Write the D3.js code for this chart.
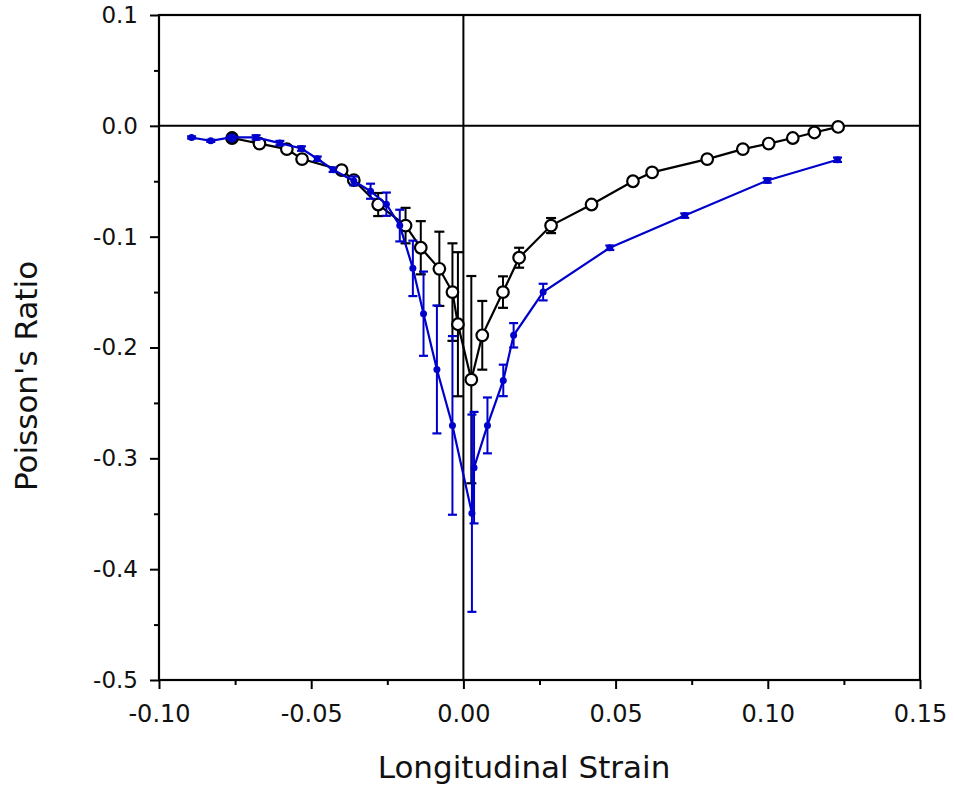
<!DOCTYPE html>
<html><head><meta charset="utf-8">
<script src="https://cdn.jsdelivr.net/npm/d3@7/dist/d3.min.js"></script>
<style>body{margin:0;background:#fff}</style>
</head><body>
<svg id="chart" width="954" height="788"></svg>
<script>
// ---- data ----
const blackX = [-0.076,-0.067,-0.058,-0.053,-0.040,-0.036,-0.028,-0.019,-0.014,-0.0079,-0.0036,-0.0018,0.0026,0.0062,0.0130,0.0183,0.0288,0.0421,0.0557,0.0620,0.0801,0.0918,0.1003,0.1082,0.1153,0.1231];
const blackY = [-0.011,-0.016,-0.021,-0.030,-0.040,-0.049,-0.071,-0.090,-0.110,-0.129,-0.150,-0.179,-0.229,-0.189,-0.150,-0.119,-0.090,-0.071,-0.050,-0.042,-0.030,-0.021,-0.016,-0.011,-0.006,-0.001];
const blackErr = [0,0,0,0,0,0.002,0.0104,0.016,0.024,0.0335,0.044,0.065,0.0935,0.031,0.0142,0.009,0.0068,0,0,0,0,0,0,0,0,0];

const blueX = [-0.0893,-0.0830,-0.0764,-0.0681,-0.0603,-0.0532,-0.0480,-0.0428,-0.0360,-0.0305,-0.0253,-0.0209,-0.0166,-0.0131,-0.0087,-0.0036,0.0028,0.0035,0.0079,0.0131,0.0165,0.0262,0.0481,0.0727,0.0998,0.1229];
const blueY = [-0.0105,-0.0135,-0.0105,-0.0105,-0.0156,-0.0205,-0.0297,-0.0396,-0.0497,-0.059,-0.0707,-0.090,-0.1286,-0.1695,-0.2198,-0.2703,-0.3495,-0.3084,-0.2703,-0.2297,-0.189,-0.150,-0.110,-0.081,-0.0493,-0.0306];
const blueErr = [0.001,0.001,0.001,0.002,0.002,0.002,0.002,0.002,0.004,0.0068,0.0105,0.0143,0.025,0.038,0.0577,0.0806,0.089,0.0503,0.0252,0.0142,0.011,0.0075,0.002,0.002,0.002,0.002];

const xTicks = [-0.10,-0.05,0.00,0.05,0.10,0.15];
const xTickLabels = ["-0.10","-0.05","0.00","0.05","0.10","0.15"];
const xMinorTicks = [-0.075,-0.025,0.025,0.075,0.125];
const yTicks = [0.1,0.0,-0.1,-0.2,-0.3,-0.4,-0.5];
const yTickLabels = ["0.1","0.0","-0.1","-0.2","-0.3","-0.4","-0.5"];
const yMinorTicks = [0.05,-0.05,-0.15,-0.25,-0.35,-0.45];
const xTitle = "Longitudinal Strain";
const yTitle = "Poisson's Ratio";

// ---- layout ----
const L = 159, R = 920, T = 15, B = 680;
const BLUE = "#0000cc";
const FONT = "DejaVu Sans, Verdana, sans-serif";

const svg = d3.select("#chart");
const x = d3.scaleLinear().domain([-0.10, 0.15]).range([L, R]);
const y = d3.scaleLinear().domain([-0.5, 0.1]).range([B, T]);

// frame
svg.append("rect").attr("x", L).attr("y", T).attr("width", R - L).attr("height", B - T)
  .attr("fill", "none").attr("stroke", "#000").attr("stroke-width", 2.2);

// zero lines
svg.append("line").attr("x1", L).attr("x2", R).attr("y1", y(0)).attr("y2", y(0))
  .attr("stroke", "#000").attr("stroke-width", 2);
svg.append("line").attr("x1", x(0)).attr("x2", x(0)).attr("y1", T).attr("y2", B)
  .attr("stroke", "#000").attr("stroke-width", 2);

// axes
const xAxis = d3.axisBottom(x).tickValues(xTicks).tickSize(9).tickSizeOuter(0).tickPadding(16)
  .tickFormat((d, i) => xTickLabels[i]);
const gx = svg.append("g").attr("transform", `translate(0,${B})`).call(xAxis);
const xMinor = d3.axisBottom(x).tickValues(xMinorTicks).tickSize(5).tickSizeOuter(0).tickFormat("");
const gxm = svg.append("g").attr("transform", `translate(0,${B})`).call(xMinor);

const yAxis = d3.axisLeft(y).tickValues(yTicks).tickSize(9).tickSizeOuter(0).tickPadding(12)
  .tickFormat((d, i) => yTickLabels[i]);
const gy = svg.append("g").attr("transform", `translate(${L},0)`).call(yAxis);
const yMinor = d3.axisLeft(y).tickValues(yMinorTicks).tickSize(5).tickSizeOuter(0).tickFormat("");
const gym = svg.append("g").attr("transform", `translate(${L},0)`).call(yMinor);

[gx, gxm, gy, gym].forEach(g => {
  g.select(".domain").remove();
  g.selectAll(".tick line").attr("stroke", "#000").attr("stroke-width", 2);
  g.selectAll("text").attr("font-family", FONT).attr("font-size", 23).attr("fill", "#111");
});
gx.selectAll("text").attr("font-size", 24);

// titles
svg.append("text").attr("x", 524).attr("y", 778).attr("text-anchor", "middle")
  .attr("font-family", FONT).attr("font-size", 31).attr("fill", "#111").text(xTitle);
svg.append("text").attr("transform", "translate(37,376) rotate(-90)").attr("text-anchor", "middle")
  .attr("font-family", FONT).attr("font-size", 31).attr("fill", "#111").text(yTitle);

// series drawing helper
function drawSeries(xs, ys, errs, color, capW) {
  const pts = xs.map((v, i) => ({x: v, y: ys[i], e: errs[i]}));
  const g = svg.append("g");
  const eb = g.selectAll(".eb").data(pts.filter(p => p.e > 0)).enter().append("g");
  eb.append("line").attr("x1", d => x(d.x)).attr("x2", d => x(d.x))
    .attr("y1", d => y(d.y + d.e)).attr("y2", d => y(d.y - d.e))
    .attr("stroke", color).attr("stroke-width", 2);
  [1, -1].forEach(s => {
    eb.append("line").attr("x1", d => x(d.x) - capW).attr("x2", d => x(d.x) + capW)
      .attr("y1", d => y(d.y + s * d.e)).attr("y2", d => y(d.y + s * d.e))
      .attr("stroke", color).attr("stroke-width", 2.2);
  });
  g.append("path").datum(pts)
    .attr("d", d3.line().x(d => x(d.x)).y(d => y(d.y)))
    .attr("fill", "none").attr("stroke", color).attr("stroke-width", 2.2);
  return {g, pts};
}

const blk = drawSeries(blackX, blackY, blackErr, "#000", 5);
const highlightIndex = 0; // black marker overlapped by blue marker
blk.g.selectAll("circle").data(blk.pts).enter().append("circle")
  .attr("cx", d => x(d.x)).attr("cy", d => y(d.y)).attr("r", 5.8)
  .attr("fill", (d, i) => i === highlightIndex ? BLUE : "#fff")
  .attr("stroke", "#000").attr("stroke-width", 2.2);

const blu = drawSeries(blueX, blueY, blueErr, BLUE, 4.5);
blu.g.selectAll("circle").data(blu.pts).enter().append("circle")
  .attr("cx", d => x(d.x)).attr("cy", d => y(d.y)).attr("r", 3.5)
  .attr("fill", BLUE);
</script>
</body></html>
